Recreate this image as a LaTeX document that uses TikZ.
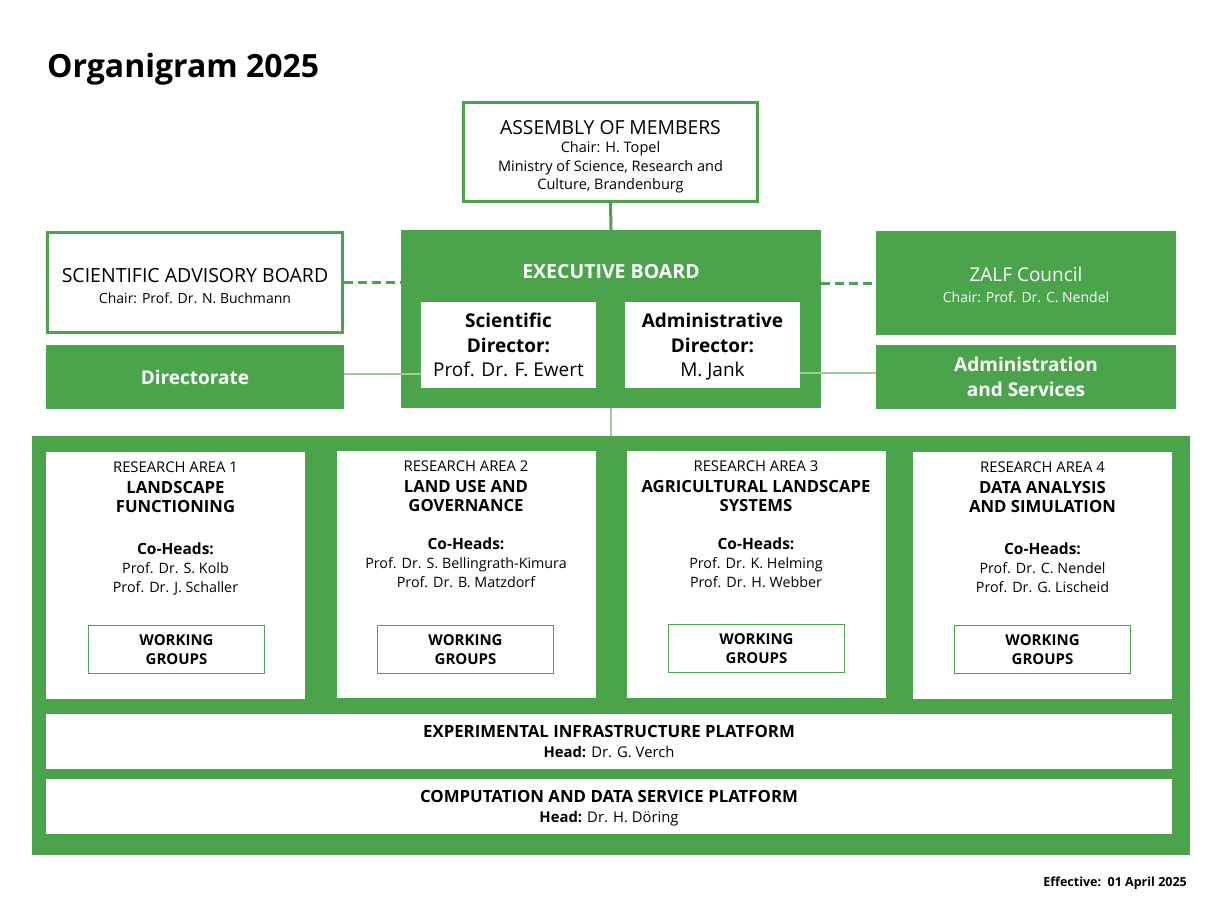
\documentclass[tikz,border=0pt]{standalone}
\usepackage{fontspec}
\setmainfont{Open Sans}
\usepackage{tikz}
\definecolor{zgreen}{RGB}{75,164,76}
\newcommand{\fsz}[2]{\fontsize{#1}{#2}\selectfont}

\begin{document}
\begin{tikzpicture}[x=1pt,y=-1pt]
			\tikzstyle{whitebox} = [rectangle,draw=zgreen,line width=3pt,fill=white,inner sep=0pt,align=center]
			\tikzstyle{greenbox} = [rectangle,fill=zgreen,text=white,inner sep=0pt,align=center,text depth=0pt]
			\tikzstyle{boxtext}  = [inner sep=0pt,align=center,text depth=0pt]
			\tikzstyle{areabox}  = [rectangle,fill=white,inner sep=0pt,minimum width=259pt,minimum height=247pt]
			\tikzstyle{areatext} = [anchor=north,inner sep=0pt,align=center,font=\fsz{14.3}{19}]
			\tikzstyle{wgbox}    = [rectangle,draw=zgreen,line width=1.5pt,fill=white,inner sep=0pt,minimum width=176pt,minimum height=48pt,align=center,font=\bfseries\fsz{15}{19}]
			\tikzstyle{platform} = [rectangle,fill=white,inner sep=0pt,minimum width=1126pt,minimum height=55pt,align=center,text depth=0pt,font=\fsz{14.8}{20}]
			\tikzstyle{conn}     = [draw=zgreen,line width=3pt]
			\tikzstyle{dashconn} = [conn,dash pattern=on 9pt off 5pt]
			\tikzstyle{thinconn} = [draw=zgreen!55,line width=1.5pt]

			\useasboundingbox (0,0) rectangle (1224,918);

			\node[anchor=base west,inner sep=0pt,font=\bfseries\fsz{32}{36}] (title) at (47,77) {Organigram 2025};

			% top level
			\node[whitebox,minimum width=294pt,minimum height=99pt] (assembly) at (610.5,152) {};
			\node[boxtext,font=\fsz{14.5}{18.5}] (assemblytext) at (610.5,155)
				{{\fsz{19.3}{24}ASSEMBLY OF MEMBERS}\\Chair: H. Topel\\Ministry of Science, Research and\\Culture, Brandenburg};
			\node[greenbox,minimum width=420pt,minimum height=178pt] (exec) at (611,319) {};
			\node[anchor=base,inner sep=0pt,text=white,font=\bfseries\fsz{19.5}{22}] (execlabel) at (611,278) {EXECUTIVE BOARD};
			\node[greenbox,fill=white,text=black,minimum width=175pt,minimum height=86pt,font=\fsz{19}{24.5}] (sci) at (508.5,345)
				{\textbf{Scientific}\\\textbf{Director:}\\Prof. Dr. F. Ewert};
			\node[greenbox,fill=white,text=black,minimum width=175pt,minimum height=86pt,font=\fsz{19}{24.5}] (adm) at (712.5,345)
				{\textbf{Administrative}\\\textbf{Director:}\\M. Jank};

			\node[whitebox,minimum width=295pt,minimum height=100pt] (sab) at (195,282.5) {};
			\node[boxtext,font=\fsz{14}{21}] (sabtext) at (195,285.5)
				{{\fsz{19.5}{21}SCIENTIFIC ADVISORY BOARD}\\Chair: Prof. Dr. N. Buchmann};
			\node[greenbox,minimum width=298pt,minimum height=64pt,font=\bfseries\fsz{19}{24}] (dir) at (195,377) {Directorate};
			\node[greenbox,minimum width=300pt,minimum height=104pt] (zalf) at (1026,283) {};
			\node[boxtext,text=white,font=\fsz{14}{21}] (zalftext) at (1026,284.5)
				{{\fsz{19}{21}ZALF Council}\\Chair: Prof. Dr. C. Nendel};
			\node[greenbox,minimum width=300pt,minimum height=64pt,font=\bfseries\fsz{19}{25}] (admsvc) at (1026,377)
				{Administration\\and Services};

			% research areas
			\node[greenbox,minimum width=1158pt,minimum height=419pt] (frame) at (611,645.5) {};

			\node[areabox] (ra1) at (175.5,575) {};
			\node[areabox] (ra2) at (466,574) {};
			\node[areabox] (ra3) at (756,574) {};
			\node[areabox] (ra4) at (1042.5,575) {};

			\node[areatext] (ra1text) at (175.5,461.5)
				{{\fsz{14.8}{19}RESEARCH AREA 1}\\[2pt]{\bfseries\fsz{16.7}{20}LANDSCAPE}\\{\bfseries\fsz{16.7}{20}FUNCTIONING}\\[23pt]{\bfseries\fsz{15.5}{19}Co-Heads:}\\Prof. Dr. S. Kolb\\Prof. Dr. J. Schaller};
			\node[areatext] (ra2text) at (466,460.5)
				{{\fsz{14.8}{19}RESEARCH AREA 2}\\[2pt]{\bfseries\fsz{16.7}{20}LAND USE AND}\\{\bfseries\fsz{16.7}{20}GOVERNANCE}\\[19pt]{\bfseries\fsz{15.5}{19}Co-Heads:}\\Prof. Dr. S. Bellingrath-Kimura\\Prof. Dr. B. Matzdorf};
			\node[areatext] (ra3text) at (756,460.5)
				{{\fsz{14.8}{19}RESEARCH AREA 3}\\[2pt]{\bfseries\fsz{16.7}{20}AGRICULTURAL LANDSCAPE}\\{\bfseries\fsz{16.7}{20}SYSTEMS}\\[19pt]{\bfseries\fsz{15.5}{19}Co-Heads:}\\Prof. Dr. K. Helming\\Prof. Dr. H. Webber};
			\node[areatext] (ra4text) at (1042.5,461.5)
				{{\fsz{14.8}{19}RESEARCH AREA 4}\\[2pt]{\bfseries\fsz{16.7}{20}DATA ANALYSIS}\\{\bfseries\fsz{16.7}{20}AND SIMULATION}\\[23pt]{\bfseries\fsz{15.5}{19}Co-Heads:}\\Prof. Dr. C. Nendel\\Prof. Dr. G. Lischeid};

			\node[wgbox] (wg1) at (176.5,649.5) {WORKING\\GROUPS};
			\node[wgbox] (wg2) at (465.5,649.5) {WORKING\\GROUPS};
			\node[wgbox] (wg3) at (756.5,648.5) {WORKING\\GROUPS};
			\node[wgbox] (wg4) at (1042.5,649.5) {WORKING\\GROUPS};

			\node[platform] (expplat) at (609,741.5)
				{\textbf{\fsz{16.8}{20}EXPERIMENTAL INFRASTRUCTURE PLATFORM}\\\textbf{Head:} Dr. G. Verch};
			\node[platform] (compplat) at (609,806.5)
				{\textbf{\fsz{16.8}{20}COMPUTATION AND DATA SERVICE PLATFORM}\\\textbf{Head:} Dr. H. D\"oring};

			\node[anchor=base east,inner sep=0pt,font=\bfseries\fsz{12.5}{14}] (effective) at (1187,886) {Effective:\ \ 01 April 2025};

			% connectors
			\path[conn] (assembly.south) -- (exec.north);
			\path[dashconn] (sab.east) -- (sab.east -| exec.west);
			\path[dashconn] (exec.east |- zalf.west) -- (zalf.west);
			\path[thinconn] ([yshift=3pt]dir.east) -- ([yshift=3pt]dir.east -| sci.west);
			\path[thinconn] ([yshift=4pt]admsvc.west) -- ([yshift=4pt]admsvc.west -| adm.east);
			\path[thinconn] (exec.south) -- (frame.north);
		\end{tikzpicture}
\end{document}
